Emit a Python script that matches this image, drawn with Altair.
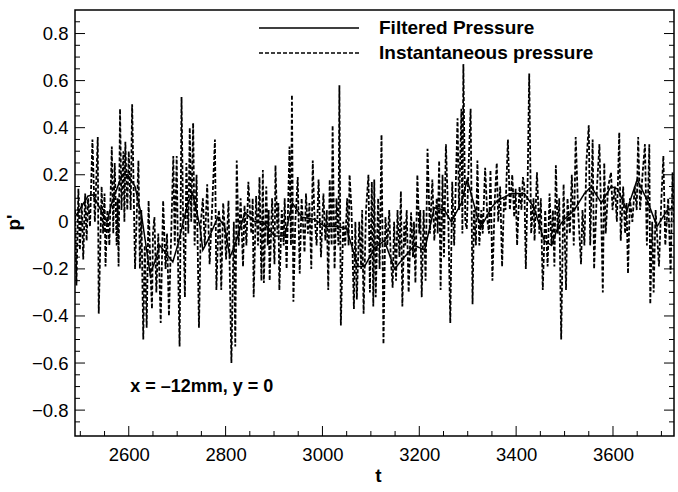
import altair as alt
import pandas as pd

# ---------------- data ----------------
t_inst = [
    2489, 2492, 2496, 2499, 2503, 2506, 2510, 2513, 2516, 2520, 2525, 2530, 2536, 2538, 2544, 2547,
    2550, 2552, 2556, 2560, 2565, 2568, 2571, 2575, 2577, 2579, 2582, 2585, 2589, 2591, 2593, 2597,
    2600, 2604, 2607, 2613, 2616, 2620, 2623, 2626, 2630, 2633, 2637, 2641, 2645, 2648, 2650, 2653,
    2657, 2661, 2666, 2671, 2676, 2679, 2683, 2687, 2692, 2695, 2699, 2702, 2705, 2709, 2712, 2716,
    2719, 2723, 2726, 2729, 2733, 2736, 2740, 2745, 2749, 2753, 2757, 2762, 2767, 2772, 2778, 2781,
    2786, 2788, 2791, 2795,
    2798, 2801, 2806, 2812, 2817, 2820, 2823, 2827, 2831, 2836, 2839, 2843, 2847, 2853, 2856, 2858,
    2863, 2867, 2870, 2874, 2877, 2879, 2884, 2887, 2889, 2891, 2896, 2901, 2903, 2907, 2909, 2911,
    2916, 2920, 2922, 2926, 2930, 2932, 2935, 2937, 2940, 2944, 2949, 2953, 2957, 2963, 2966, 2970,
    2973, 2977, 2980, 2983, 2988, 2992, 2997, 3002, 3006, 3009, 3012, 3015, 3019, 3021, 3025, 3029,
    3033, 3035, 3038, 3043, 3047, 3051, 3054, 3056, 3060, 3065, 3068, 3071, 3076, 3080, 3082, 3085,
    3090, 3095, 3098, 3102, 3105,
    3107, 3110, 3115, 3118, 3122, 3126, 3130, 3134, 3138, 3141, 3145, 3148, 3152, 3155, 3159, 3162,
    3165, 3169, 3171, 3174, 3178, 3183, 3187, 3189, 3192, 3196, 3200, 3202, 3205, 3209, 3213, 3217,
    3222, 3227, 3231, 3236, 3238, 3241, 3244, 3248, 3251, 3255, 3260, 3264, 3268, 3272, 3279, 3282,
    3287, 3289, 3291, 3295, 3298, 3302, 3306, 3310, 3313, 3317, 3320, 3324, 3328, 3331, 3336, 3341,
    3344, 3347, 3351, 3356, 3360, 3363, 3367, 3371, 3375, 3378, 3383, 3387, 3392, 3396, 3399, 3402,
    3407, 3411, 3414,
    3417, 3420, 3424, 3427, 3431, 3436, 3438, 3443, 3448, 3451, 3455, 3460, 3465, 3469, 3473, 3476,
    3479, 3482, 3486, 3489, 3493, 3498, 3503, 3506, 3511, 3515, 3519, 3523, 3528, 3534, 3537, 3541,
    3545, 3550, 3553, 3558, 3561, 3567, 3572, 3576, 3579, 3582, 3585, 3590, 3596, 3599, 3604, 3608,
    3613, 3616, 3621, 3625, 3628, 3631, 3635, 3640, 3645, 3649, 3652, 3656, 3661, 3666, 3670, 3675,
    3677, 3681, 3684, 3688, 3695, 3700, 3704, 3708, 3714, 3719, 3723, 3726,
]
p_inst = [
    0.05, -0.27, 0.14, -0.12, 0.08, -0.16, 0.12, -0.08, 0.10, -0.02, 0.35, 0.00, 0.36, -0.39, 0.15, -0.05,
    0.12, -0.19, 0.05, -0.10, 0.32, -0.05, 0.25, -0.10, 0.10, -0.19, 0.48, 0.05, 0.30, 0.00, 0.34, 0.05,
    0.30, 0.05, 0.50, -0.20, 0.00, 0.26, -0.20, 0.05, -0.50, -0.10, -0.45, 0.09, -0.22, -0.37, -0.05, 0.02,
    -0.30, -0.05, -0.43, 0.09, -0.20, -0.05, -0.40, -0.10, 0.28, -0.10, 0.28, -0.20, -0.53, 0.53, 0.05, -0.32,
    0.25, -0.05, 0.40, 0.00, 0.42, -0.10, 0.20, -0.45, 0.00, 0.10, -0.10, 0.16, -0.18, 0.05, 0.35, -0.29,
    0.05, 0.00, -0.29, 0.08,
    -0.02, -0.16, 0.09, -0.60, 0.00, -0.53, 0.26, -0.10, 0.10, -0.19, 0.07, -0.10, 0.17, -0.05, 0.10, -0.32,
    0.11, -0.10, 0.19, -0.25, 0.22, -0.26, 0.15, -0.10, 0.05, -0.25, 0.10, -0.18, 0.24, -0.05, 0.08, -0.29,
    0.05, -0.10, 0.10, -0.20, 0.15, 0.32, -0.10, 0.54, -0.34, 0.00, 0.19, -0.22, 0.10, -0.13, 0.12, -0.05,
    0.08, -0.20, 0.26, 0.05, -0.10, 0.18, -0.15, 0.12, -0.08, 0.05, -0.29, 0.18, -0.10, 0.41, -0.20, 0.10,
    -0.10, 0.58, -0.44, 0.00, -0.10, 0.10, -0.10, 0.20, 0.05, -0.37, 0.00, -0.33, 0.00, -0.20, 0.05, -0.39,
    0.05, 0.20, -0.30, 0.17, -0.36,
    0.18, -0.32, 0.10, -0.20, 0.37, -0.52, 0.02, -0.10, 0.05, -0.15, -0.28, 0.00, -0.25, 0.05, -0.15, 0.13,
    -0.36, 0.00, -0.10, 0.05, -0.30, 0.04, -0.15, 0.00, -0.26, 0.20, -0.05, 0.05, -0.32, 0.05, -0.25, 0.31,
    -0.05, 0.18, -0.08, 0.10, -0.05, 0.26, -0.29, 0.20, -0.15, 0.33, 0.00, -0.43, 0.17, -0.10, 0.44, 0.05,
    0.48, -0.05, 0.67, 0.00, -0.03, 0.25, 0.48, -0.35, 0.05, -0.10, 0.26, -0.10, 0.05, -0.05, 0.23, 0.00,
    -0.05, 0.22, -0.25, 0.10, 0.25, 0.00, 0.15, -0.19, 0.10, 0.05, 0.35, 0.05, 0.20, 0.02, 0.14, -0.10,
    0.15, 0.05, 0.19,
    0.15, -0.20, 0.20, 0.63, -0.05, 0.10, -0.08, 0.21, -0.05, 0.10, -0.29, 0.05, -0.19, 0.12, -0.10, 0.05,
    -0.19, 0.24, -0.05, 0.10, -0.50, 0.16, -0.29, 0.10, -0.05, 0.20, -0.10, 0.36, 0.05, -0.18, 0.05, -0.10,
    0.25, 0.41, -0.10, 0.35, -0.20, 0.15, 0.33, 0.00, -0.30, 0.25, -0.05, 0.15, 0.21, 0.05, 0.15, 0.00,
    0.38, -0.08, 0.15, -0.05, 0.08, -0.22, 0.10, 0.00, 0.15, 0.05, 0.36, 0.05, 0.20, 0.33, -0.10, 0.33,
    -0.35, 0.00, -0.30, 0.05, -0.19, 0.10, 0.28, -0.10, 0.10, -0.22, 0.21, 0.00,
]

t_filt = [
    2489, 2516, 2526, 2555, 2565, 2586, 2598, 2613, 2627, 2644, 2654, 2664, 2675, 2691, 2701, 2722,
    2732, 2747, 2753, 2763, 2784, 2798, 2809, 2819, 2840, 2860, 2877, 2901, 2922, 2938, 2957, 2984,
    3005, 3031, 3050, 3073, 3087, 3108, 3128, 3149, 3169, 3190, 3211, 3231, 3252, 3266, 3287, 3299,
    3320, 3328, 3349, 3361, 3390, 3417, 3437, 3458, 3473, 3485, 3499, 3520, 3541, 3555, 3576, 3596,
    3609, 3629, 3650, 3671, 3691, 3712, 3724,
]
p_filt = [
    0.02, 0.11, 0.115, 0.00, 0.08, 0.20, 0.20, 0.15, 0.02, -0.22, -0.17, -0.10, -0.13, -0.17, -0.10, 0.08,
    0.12, -0.02, -0.12, -0.08, 0.02, -0.02, -0.15, -0.10, 0.04, 0.00, 0.00, -0.06, -0.06, 0.08, 0.02, 0.01,
    -0.02, -0.02, -0.03, -0.19, -0.19, -0.11, -0.08, -0.20, -0.15, -0.10, -0.12, 0.06, 0.05, 0.00, 0.08, 0.18,
    0.02, -0.02, 0.06, 0.09, 0.12, 0.12, 0.06, -0.08, -0.10, -0.03, 0.01, 0.05, 0.12, 0.15, 0.08, 0.15,
    0.14, 0.05, 0.18, 0.09, -0.02, 0.05, 0.06,
]

series_names = ["Filtered Pressure", "Instantaneous pressure"]

x_major = [2600, 2800, 3000, 3200, 3400, 3600]
x_minor = [2500, 2550, 2650, 2700, 2750, 2850, 2900, 2950, 3050, 3100,
           3150, 3250, 3300, 3350, 3450, 3500, 3550, 3650, 3700]
y_major = [-0.8, -0.6, -0.4, -0.2, 0, 0.2, 0.4, 0.6, 0.8]
y_minor = [-0.85, -0.75, -0.7, -0.65, -0.55, -0.5, -0.45, -0.35, -0.3, -0.25,
           -0.15, -0.1, -0.05, 0.05, 0.1, 0.15, 0.25, 0.3, 0.35, 0.45, 0.5,
           0.55, 0.65, 0.7, 0.75, 0.85]

ann_t = [2603]
ann_p = [-0.723]
ann_text = ["x = \u201312mm, y = 0"]

# ---------------- chart ----------------
W, H = 599, 426
FONT = "Liberation Sans"
MAJ, MIN = 10, 5

df_i = pd.DataFrame({"t": t_inst, "p": p_inst, "series": series_names[1]})
df_f = pd.DataFrame({"t": t_filt, "p": p_filt, "series": series_names[0]})
df_a = pd.DataFrame({"t": ann_t, "p": ann_p, "label": ann_text})
df_xmaj = pd.DataFrame({"t": x_major})
df_xmin = pd.DataFrame({"t": x_minor})
df_ymaj = pd.DataFrame({"p": y_major})
df_ymin = pd.DataFrame({"p": y_minor})

xs = alt.Scale(domain=[2489, 3726], nice=False, zero=False)
ys = alt.Scale(domain=[-0.91, 0.9], nice=False, zero=False)
dash_scale = alt.Scale(domain=series_names, range=[[1, 0], [4, 2]])

legend = alt.Legend(
    title=None, orient="none", legendX=223, legendY=7, padding=0,
    symbolType="M-5,0H5", symbolSize=400, symbolStrokeWidth=1.5,
    symbolStrokeColor="black", symbolFillColor="transparent",
    labelFont=FONT, labelFontSize=19, labelFontWeight="bold", labelColor="black",
    labelOffset=59, rowPadding=4, labelLimit=400,
)

x_label_axis = alt.Axis(
    values=x_major, format="d", title="t", ticks=False, tickSize=0, domain=False, grid=False,
    labelPadding=9, labelFont=FONT, labelFontSize=18.5, labelColor="black",
    titleFont=FONT, titleFontSize=19, titleFontWeight="bold", titleColor="black",
    titleX=303, titleY=45, titleBaseline="alphabetic",
)
y_label_axis = alt.Axis(
    values=y_major, labelExpr="datum.value == 0 ? '0' : format(datum.value, '.1f')",
    title="p'", ticks=False, tickSize=0, domain=False, grid=False,
    labelPadding=7, labelFont=FONT, labelFontSize=18.5, labelColor="black",
    titleFont=FONT, titleFontSize=19, titleFontWeight="bold", titleColor="black",
    titleX=-56, titleY=212, titleAngle=-90, titleAlign="center", titleBaseline="alphabetic",
)


# inward-pointing ticks, placed through the scales
def x_ticks(df, length):
    return alt.Chart(df).mark_rule(color="black", strokeWidth=1).encode(
        x=alt.X("t:Q", scale=xs, axis=None),
        y=alt.value(H), y2=alt.value(H - length),
    )


def y_ticks(df, x0, x1):
    return alt.Chart(df).mark_rule(color="black", strokeWidth=1).encode(
        y=alt.Y("p:Q", scale=ys, axis=None),
        x=alt.value(x0), x2=alt.value(x1),
    )


tick_layers = [
    x_ticks(df_xmaj, MAJ), x_ticks(df_xmin, MIN),
    y_ticks(df_ymaj, 0, MAJ), y_ticks(df_ymin, 0, MIN),
    y_ticks(df_ymaj, W, W - MAJ), y_ticks(df_ymin, W, W - MIN),
]

inst = alt.Chart(df_i).mark_line(color="black", strokeWidth=1.8, clip=True).encode(
    x=alt.X("t:Q", scale=xs, axis=x_label_axis),
    y=alt.Y("p:Q", scale=ys, axis=y_label_axis),
    strokeDash=alt.StrokeDash("series:N", scale=dash_scale, legend=legend),
)
filt = alt.Chart(df_f).mark_line(color="black", strokeWidth=1.5, clip=True).encode(
    x=alt.X("t:Q", scale=xs, axis=None),
    y=alt.Y("p:Q", scale=ys, axis=None),
    strokeDash=alt.StrokeDash("series:N", scale=dash_scale, legend=legend),
)
annot = alt.Chart(df_a).mark_text(
    align="left", baseline="alphabetic", font=FONT, fontSize=18, fontWeight="bold", color="black"
).encode(
    x=alt.X("t:Q", scale=xs, axis=None),
    y=alt.Y("p:Q", scale=ys, axis=None),
    text="label:N",
)

chart = alt.layer(inst, filt, *tick_layers, annot).resolve_axis(
    x="independent", y="independent"
).properties(
    width=W, height=H,
    autosize=alt.AutoSizeParams(type="none"),
    padding={"left": 75, "top": 10, "right": 4, "bottom": 56},
    background="white",
).configure_view(stroke="black", strokeWidth=1.5)

chart.save("out.html", embed_options={"renderer": "svg", "actions": False})
